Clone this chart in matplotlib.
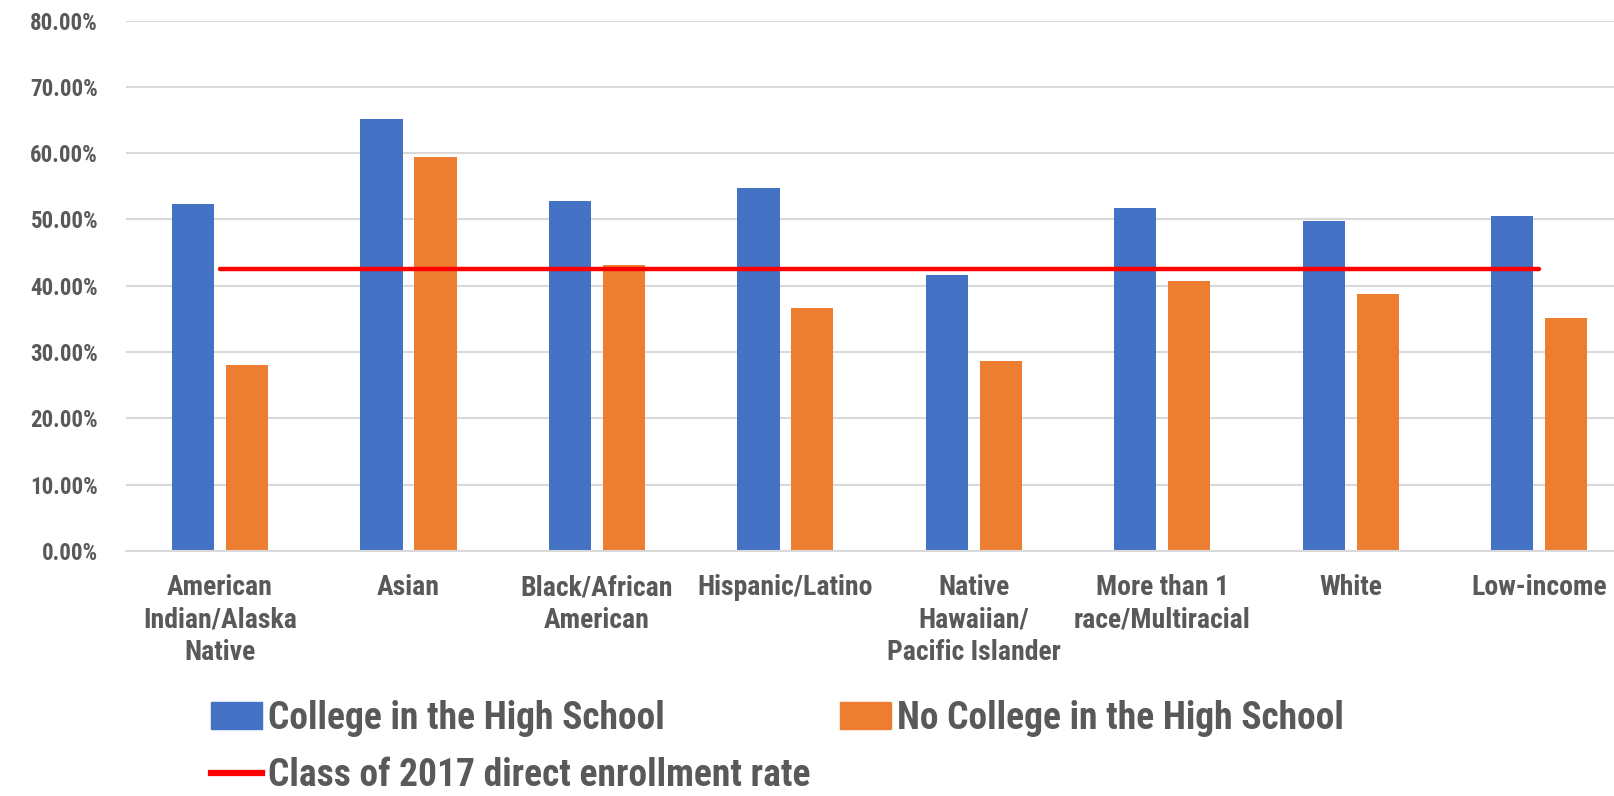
import numpy as np
import matplotlib
matplotlib.use("Agg")
import matplotlib.pyplot as plt
from matplotlib import font_manager
from matplotlib.patches import Patch
from matplotlib.lines import Line2D
from matplotlib.ticker import PercentFormatter

# data
categories = ["American\nIndian/Alaska\nNative", "Asian", "Black/African\nAmerican",
              "Hispanic/Latino", "Native\nHawaiian/\nPacific Islander",
              "More than 1\nrace/Multiracial", "White", "Low-income"]
college_hs = [0.523, 0.652, 0.528, 0.547, 0.416, 0.517, 0.497, 0.506]
no_college_hs = [0.281, 0.595, 0.432, 0.366, 0.287, 0.407, 0.388, 0.351]
enroll_rate = 0.425
series_names = ["College in the High School", "No College in the High School",
                "Class of 2017 direct enrollment rate"]

names = {f.name for f in font_manager.fontManager.ttflist}
fam = next((n for n in ["Liberation Sans Narrow", "Roboto Condensed", "Open Sans Condensed",
                        "Liberation Sans"] if n in names), "DejaVu Sans")
plt.rcParams["font.family"] = [fam, "DejaVu Sans"]
plt.rcParams["font.weight"] = "bold"
grey = "#595959"

fig = plt.figure(figsize=(16.14, 7.96), dpi=100)
ax = fig.add_axes([0.078, 0.308, 0.934, 0.666])

x = np.arange(len(categories))
w = 0.224
ax.bar(x - 0.143, college_hs, w, color="#4472C4", zorder=2)
ax.bar(x + 0.143, no_college_hs, w, color="#ED7D31", zorder=2)
ax.plot(x, [enroll_rate] * len(x), color="#FF0000", lw=3.2, solid_capstyle="round", zorder=3)

ax.set_xlim(-0.5, len(categories) - 0.5)
ax.set_ylim(0, 0.8)
ax.set_yticks(np.arange(0, 0.81, 0.1))
ax.yaxis.set_major_formatter(PercentFormatter(1.0, decimals=2))
ax.set_xticks(x)
ax.set_xticklabels(categories, linespacing=1.25)
ax.tick_params(axis="y", length=0, pad=20, labelsize=16.5, labelcolor=grey)
ax.tick_params(axis="x", length=0, pad=17, labelsize=20, labelcolor=grey)
ax.grid(axis="y", color="#D9D9D9", lw=1.5, zorder=0)
ax.set_axisbelow(True)
for s in ["left", "right", "top"]:
    ax.spines[s].set_visible(False)
ax.spines["bottom"].set_color("#D9D9D9")
ax.spines["bottom"].set_linewidth(1.5)

handles = [Patch(color="#4472C4"), Line2D([], [], color="#FF0000", lw=4.5),
           Patch(color="#ED7D31")]
labels = [series_names[0], series_names[2], series_names[1]]
leg = fig.legend(handles, labels, ncol=2, loc="upper left", bbox_to_anchor=(0.131, 0.121),
                 frameon=False, fontsize=27, handlelength=1.36, handleheight=0.72,
                 handletextpad=0.16, columnspacing=0.77, labelspacing=0.55,
                 borderpad=0, borderaxespad=0)
for t in leg.get_texts():
    t.set_color(grey)

fig.savefig("out.png", dpi=100)
